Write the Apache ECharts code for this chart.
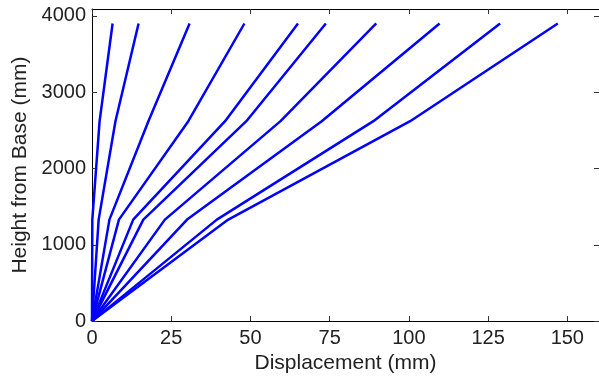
<!DOCTYPE html>
<html>
<head>
<meta charset="utf-8">
<script src="https://cdn.jsdelivr.net/npm/echarts@6/dist/echarts.min.js"></script>
<style>
html,body{margin:0;padding:0;background:#fff;}
#chart{width:599px;height:379px;}
</style>
</head>
<body>
<div id="chart"></div>
<script>
// Heights (mm) at which displacements are read
const heights = [0, 1330, 2620, 3900];
// Displacement profiles (mm), one per curve
const disp1  = [0, 0.1, 2.4, 6.5];
const disp2  = [0, 2.1, 7.4, 14.7];
const disp3  = [0, 5.5, 17.8, 30.8];
const disp4  = [0, 8.5, 30.4, 48.1];
const disp5  = [0, 13, 42, 65.0];
const disp6  = [0, 16.2, 48.7, 73.8];
const disp7  = [0, 23, 59.5, 89.7];
const disp8  = [0, 30, 72.5, 109.7];
const disp9  = [0, 39.4, 88.8, 128.8];
const disp10 = [0, 43, 100.4, 147.0];
const profiles = [disp1, disp2, disp3, disp4, disp5, disp6, disp7, disp8, disp9, disp10];

const xTicks = [0, 25, 50, 75, 100, 125, 150];
const yTicks = [0, 1000, 2000, 3000, 4000];

const font = '"Liberation Sans", Arial, Helvetica, sans-serif';
const chart = echarts.init(document.getElementById('chart'), null, {renderer: 'canvas'});

const series = profiles.map(p => ({
  type: 'line',
  xAxisIndex: 0,
  yAxisIndex: 0,
  data: p.map((d, i) => [d, heights[i]]),
  showSymbol: false,
  symbol: 'none',
  smooth: false,
  lineStyle: {color: '#0000ff', width: 2.5},
  animation: false,
  silent: true
}));

const axisLineStyle = {show: true, onZero: false, lineStyle: {color: '#000', width: 1}};
function ticks(vals) {
  return {show: true, inside: true, length: 5, customValues: vals, lineStyle: {color: '#333', width: 1}};
}

chart.setOption({
  animation: false,
  backgroundColor: '#fff',
  grid: {left: 92, right: -0.5, top: 9, bottom: 57, containLabel: false},
  xAxis: [{
    type: 'value', position: 'bottom', min: 0, max: 160, interval: 25,
    axisLine: axisLineStyle, axisTick: ticks(xTicks), splitLine: {show: false},
    axisLabel: {
      fontFamily: font, fontSize: 20, color: '#222', margin: 7,
      customValues: xTicks,
      formatter: v => (xTicks.indexOf(v) >= 0 ? String(v) : '')
    },
    name: 'Displacement (mm)', nameLocation: 'middle', nameGap: 31,
    nameTextStyle: {fontFamily: font, fontSize: 21, color: '#222'}
  }, {
    type: 'value', position: 'top', min: 0, max: 160, interval: 25,
    axisLine: axisLineStyle, axisTick: ticks(xTicks), splitLine: {show: false},
    axisLabel: {show: false}
  }],
  yAxis: [{
    type: 'value', position: 'left', min: 0, max: 4090, interval: 1000,
    axisLine: axisLineStyle, axisTick: ticks(yTicks), splitLine: {show: false},
    axisLabel: {
      fontFamily: font, fontSize: 20, color: '#222', margin: 6,
      customValues: yTicks,
      formatter: v => (yTicks.indexOf(v) >= 0 ? String(v) : '')
    },
    name: 'Height from Base (mm)', nameLocation: 'middle', nameGap: 57,
    nameTextStyle: {fontFamily: font, fontSize: 21, color: '#222'}
  }, {
    type: 'value', position: 'right', min: 0, max: 4090, interval: 1000,
    axisLine: axisLineStyle, axisTick: ticks(yTicks), splitLine: {show: false},
    axisLabel: {show: false}
  }],
  series: series
});
</script>
</body>
</html>
